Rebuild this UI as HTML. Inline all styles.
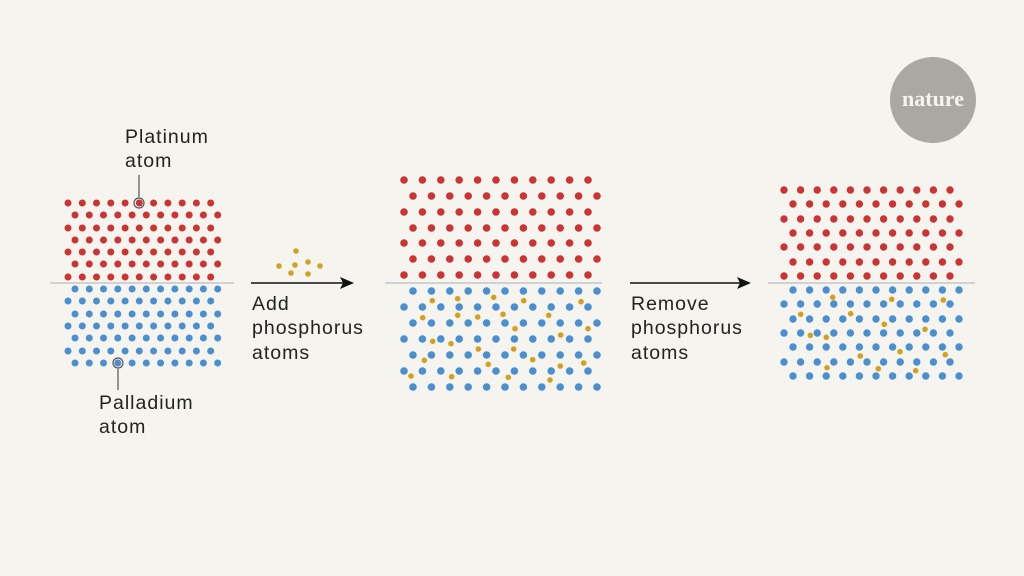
<!DOCTYPE html>
<html><head><style>
body{margin:0;background:#f5f4ee;}
svg{display:block}
text{font-family:"Liberation Sans",sans-serif;fill:#222;font-size:19.5px;letter-spacing:1px}
</style></head><body>
<svg id="s" width="1024" height="576" viewBox="0 0 1024 576" xmlns="http://www.w3.org/2000/svg">
<rect width="1024" height="576" fill="#f5f4ee"/>
<circle cx="933" cy="100" r="43" fill="#a9a8a3"/>
<text x="933" y="106" text-anchor="middle" style="font-family:'Liberation Serif',serif;font-size:22px;font-weight:bold;letter-spacing:0;fill:#f5f4ee">nature</text>
<line x1="50" y1="283" x2="234" y2="283" stroke="#c4c6cc" stroke-width="1.5"/>
<line x1="385" y1="283" x2="602" y2="283" stroke="#c4c6cc" stroke-width="1.5"/>
<line x1="768" y1="283" x2="975" y2="283" stroke="#c4c6cc" stroke-width="1.5"/>
<line x1="251" y1="283" x2="343" y2="283" stroke="#111" stroke-width="1.5"/>
<polygon points="354,283 340,277 343,283 340,289" fill="#111"/>
<line x1="630" y1="283" x2="740" y2="283" stroke="#111" stroke-width="1.5"/>
<polygon points="751,283 737,277 740,283 737,289" fill="#111"/>
<text x="125" y="143">Platinum</text><text x="125" y="167">atom</text>
<line x1="139" y1="175" x2="139" y2="197" stroke="#555" stroke-width="1.2"/>
<circle cx="139" cy="203" r="5" fill="none" stroke="#555" stroke-width="1.2"/>
<text x="99" y="409">Palladium</text><text x="99" y="433">atom</text>
<line x1="118" y1="369" x2="118" y2="390" stroke="#555" stroke-width="1.2"/>
<circle cx="118" cy="363" r="5" fill="none" stroke="#555" stroke-width="1.2"/>
<text x="252" y="310">Add</text><text x="252" y="334">phosphorus</text><text x="252" y="359">atoms</text>
<text x="631" y="310">Remove</text><text x="631" y="334">phosphorus</text><text x="631" y="359">atoms</text>
<g id="g"></g>
</svg>
<script>
var g=document.getElementById('g'),h='';
function c(x,y,r,f){h+='<circle cx="'+x.toFixed(1)+'" cy="'+y.toFixed(1)+'" r="'+r+'" fill="'+f+'"/>';}
function panel(x0,dx,off,redY,blueY,r){
 for(var i=0;i<7;i++){var s=(i%2)?off:0;for(var j=0;j<11;j++)c(x0+s+j*dx,redY[i],r,'#cc3433');}
 for(var i=0;i<7;i++){var s=(i%2)?0:off;for(var j=0;j<11;j++)c(x0+s+j*dx,blueY[i],r,'#4a90d0');}
}
panel(68,14.27,7,[203,215,228,240,252,264,277],[289,301,314,326,338,351,363],3.5);
panel(404,18.4,9,[180,196,212,228,243,259,275],[291,307,323,339,355,371,387],3.8);
panel(784,16.6,9,[190,204,219,233,247,262,276],[290,304,319,333,347,362,376],3.7);
var Y='#d4a021';
[[296,251],[279,266],[295,265],[308,262],[320,266],[291,273],[308,274]].forEach(function(p){c(p[0],p[1],2.8,Y)});
[[142,392],[218,386],[326,382],[416,392],[588,395],[113,443],[218,436],[278,441],[354,433],[491,436],[390,476],[609,476],[527,495],[143,514],[198,521],[280,537],[386,537],[118,571],[443,569],[310,583],[596,579],[526,588],[78,618],[200,620],[370,622],[495,630]].forEach(function(p){c(385+p[0]/3,170+p[1]/3,2.8,Y)});
[[203,352],[380,358],[535,360],[107,403],[257,401],[358,433],[480,448],[136,466],[184,472],[405,515],[541,524],[286,528],[186,563],[340,566],[452,572]].forEach(function(p){c(765+p[0]/3,180+p[1]/3,2.8,Y)});
g.innerHTML=h;
</script>
</body></html>
